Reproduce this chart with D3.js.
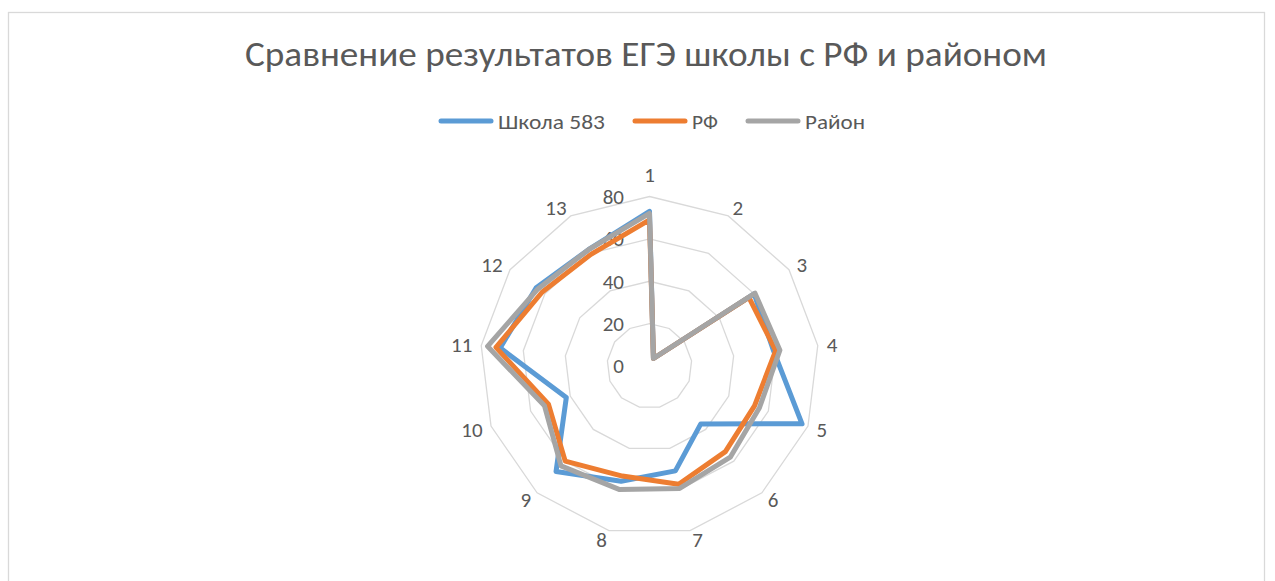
<!DOCTYPE html>
<html>
<head>
<meta charset="utf-8">
<script src="https://cdnjs.cloudflare.com/ajax/libs/d3/7.8.5/d3.min.js"></script>
<style>
  html, body { margin: 0; padding: 0; background: #ffffff; }
  svg { display: block; }
  text { font-family: Carlito, Lato, "Open Sans", sans-serif; fill: #595959; }
</style>
</head>
<body>
<svg id="chart" width="1275" height="581"></svg>
<script>
// ---- data ----
const categories = ["1","2","3","4","5","6","7","8","9","10","11","12","13"];
const seriesNames = ["Школа 583", "РФ", "Район"];
const school = [73, 4, 60, 59, 77, 36.5, 51, 56, 66.5, 42, 71, 65, 62];
const rf     = [69, 4, 57, 60, 53, 54, 57.5, 53.5, 60, 51, 73, 61.5, 59.5];
const rayon  = [72, 4, 60.5, 62, 55.5, 57.5, 59.5, 60, 63, 53, 77, 64, 62];
const tickValues = [0, 20, 40, 60, 80];
const titleText = "Сравнение результатов ЕГЭ школы с РФ и районом";

// ---- layout ----
const colors = ["#5b9bd5", "#ed7d31", "#a5a5a5"];
const cx = 649.5, cy = 366, R = 169.5;
const svg = d3.select("#chart");

// chart border
svg.append("rect")
  .attr("x", 8.5).attr("y", 12.5).attr("width", 1256).attr("height", 620)
  .attr("fill", "none").attr("stroke", "#d9d9d9").attr("stroke-width", 1.3);

// title
svg.append("text")
  .attr("x", 646).attr("y", 66)
  .attr("text-anchor", "middle")
  .attr("font-size", 34)
  .attr("font-weight", 300)
  .attr("textLength", 802).attr("lengthAdjust", "spacingAndGlyphs")
  .text(titleText);

// legend
const legendItems = [
  {name: seriesNames[0], x0: 441, x1: 491, tx: 498, tw: 107},
  {name: seriesNames[1], x0: 635, x1: 685, tx: 692, tw: 26},
  {name: seriesNames[2], x0: 748, x1: 798, tx: 805, tw: 60}
];
const lg = svg.append("g");
legendItems.forEach((d, i) => {
  lg.append("line")
    .attr("x1", d.x0).attr("x2", d.x1).attr("y1", 121).attr("y2", 121)
    .attr("stroke", colors[i]).attr("stroke-width", 5).attr("stroke-linecap", "round");
  lg.append("text")
    .attr("x", d.tx).attr("y", 128.5)
    .attr("font-size", 21)
    .attr("textLength", d.tw).attr("lengthAdjust", "spacingAndGlyphs")
    .text(d.name);
});

// scales
const angle = d3.scalePoint().domain(categories).range([0, 2 * Math.PI * (categories.length - 1) / categories.length]);
const rScale = d3.scaleLinear().domain([0, 80]).range([0, R]);
const pt = (cat, v) => {
  const a = angle(cat);
  return [cx + rScale(v) * Math.sin(a), cy - rScale(v) * Math.cos(a)];
};

// grid rings
const grid = svg.append("g");
tickValues.filter(t => t > 0).forEach(t => {
  grid.append("path")
    .attr("d", d3.line().curve(d3.curveLinearClosed)(categories.map(c => pt(c, t))))
    .attr("fill", "none").attr("stroke", "#d9d9d9").attr("stroke-width", 1.3);
});

// tick labels
svg.append("g").selectAll("text").data(tickValues).join("text")
  .attr("x", cx - 25.5)
  .attr("y", d => cy - rScale(d))
  .attr("dy", "0.35em")
  .attr("text-anchor", "end")
  .attr("font-size", 21)
  .text(d => d);

// category labels
svg.append("g").selectAll("text").data(categories).join("text")
  .each(function(c) {
    const a = angle(c);
    const sx = Math.sin(a), cyv = -Math.cos(a);
    const rr = R + 9;
    let x = cx + rr * sx, y = cy + rr * cyv;
    let anchor = "middle";
    if (sx > 0.1) anchor = "start";
    else if (sx < -0.1) anchor = "end";
    else y -= 13;
    d3.select(this).attr("x", x).attr("y", y).attr("dy", "0.35em")
      .attr("text-anchor", anchor).attr("font-size", 21).text(c);
  });

// series
const allSeries = [school, rf, rayon];
const lineGen = d3.line().curve(d3.curveLinearClosed);
allSeries.forEach((vals, i) => {
  svg.append("path")
    .attr("d", lineGen(categories.map((c, j) => pt(c, vals[j]))))
    .attr("fill", "none")
    .attr("stroke", colors[i])
    .attr("stroke-width", 5)
    .attr("stroke-linejoin", "round");
});
</script>
</body>
</html>
